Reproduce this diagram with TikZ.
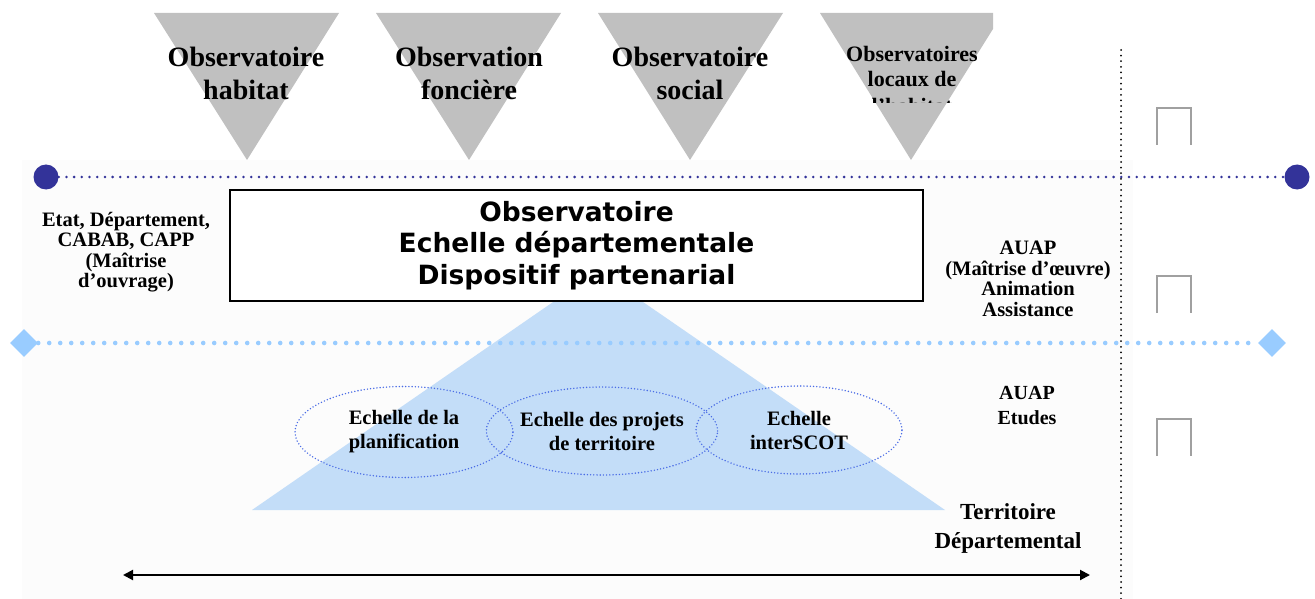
\documentclass[tikz,border=0pt]{standalone}
\usepackage{fontspec}
\setmainfont{Liberation Serif}
\newfontfamily\boxfont{DejaVu Sans}
\usetikzlibrary{shapes.geometric,arrows.meta}

\definecolor{trigray}{HTML}{C0C0C0}
\definecolor{navydot}{HTML}{333399}
\definecolor{skydot}{HTML}{99CCFF}
\definecolor{pyrblue}{HTML}{C3DDF8}
\definecolor{ellblue}{HTML}{4A6CE6}
\definecolor{boxgray}{HTML}{A0A0A0}
\definecolor{bgshade}{HTML}{FCFCFC}

\newcommand{\pw}{1315}
\newcommand{\ph}{599}

\begin{document}
\begin{tikzpicture}[x=1pt,y=-1pt,
    obs/.style={font=\bfseries\fontsize{28}{33}\selectfont, align=center, inner sep=0pt},
    obssmall/.style={font=\bfseries\fontsize{22}{25}\selectfont, align=center, inner sep=0pt},
    actor/.style={font=\bfseries\fontsize{20.5}{20.5}\selectfont, align=center, inner sep=0pt},
    scale3/.style={ellipse, draw=ellblue, line width=1.6pt, line cap=round, dash pattern=on 0pt off 3.2pt,
        font=\bfseries\fontsize{20.5}{24}\selectfont, align=center, inner sep=0pt},
    mainbox/.style={draw, line width=1.5pt, fill=white, minimum width=693pt, minimum height=111pt,
        font=\boxfont\bfseries\fontsize{26.5}{31.5}\selectfont, align=center, inner sep=0pt},
    navyball/.style={circle, fill=navydot, minimum size=25pt, inner sep=0pt},
    skygem/.style={diamond, fill=skydot, minimum width=28pt, minimum height=28pt, inner sep=0pt},
    navyline/.style={navydot, line width=2.8pt, line cap=round, dash pattern=on 0pt off 7.7pt},
    skyline/.style={skydot, line width=4.6pt, line cap=round, dash pattern=on 0pt off 11pt},
    blackdots/.style={line width=2pt, line cap=round, dash pattern=on 0pt off 5.6pt},
    openbox/.style={draw=boxgray, line width=1.5pt}]

    \useasboundingbox (0,0) rectangle (\pw,\ph);
    \fill[bgshade] (22,160) rectangle (1133,\ph);

    % observatoires (top)
    \fill[trigray] (154,13) -- (339,13) -- (247,160) -- cycle;
    \fill[trigray] (376,13) -- (561,13) -- (469,160) -- cycle;
    \fill[trigray] (598,13) -- (783,13) -- (690,160) -- cycle;
    \begin{scope}
        \clip (800,0) rectangle (993,170);
        \fill[trigray] (820,13) -- (1003,13) -- (911,160) -- cycle;
    \end{scope}
    \node[obs] (obsHab) at (246,73) {Observatoire\\habitat};
    \node[obs] (obsFon) at (469,73) {Observation\\foncière};
    \node[obs] (obsSoc) at (690,73) {Observatoire\\social};
    \node[obssmall] (obsLoc) at (912,67) {Observatoires\\locaux de};
    \begin{scope}
        \clip (800,0) rectangle (993,103);
        \node[obssmall] (obsLocCut) at (912,106) {l'habitat};
    \end{scope}

    % territoire departemental
    \fill[pyrblue] (598,271) -- (945,510) -- (252,510) -- cycle;
    \node[mainbox] (obsBox) at (576.5,245.5) {Observatoire\\Echelle départementale\\Dispositif partenarial};

    % niveaux
    \node[navyball] (circL) at (46,177) {};
    \node[navyball] (circR) at (1297,177) {};
    \draw[navyline] (circL) -- (circR);
    \node[skygem] (diaL) at (24,343) {};
    \node[skygem] (diaR) at (1272,343) {};
    \draw[skyline] (diaL) -- (diaR);

    \coordinate (vTop) at (1121,50);
    \coordinate (vBot) at (1121,\ph);
    \draw[blackdots] (vTop) -- (vBot);

    % echelles
    \node[scale3, minimum width=218pt, minimum height=91pt] (ellPlan) at (404,432) {Echelle de la\\planification};
    \node[scale3, minimum width=216pt, minimum height=88pt] (ellProj) at (602,431) {Echelle des projets\\de territoire};
    \node[scale3, minimum width=206pt, minimum height=88pt] (ellScot) at (799,430) {Echelle\\interSCOT};

    \node[actor] (maitreOuv) at (126,252) {Etat, Département,\\CABAB, CAPP\\(Maîtrise\\d’ouvrage)};
    \node[actor] (maitreOeu) at (1028,279) {AUAP\\(Maîtrise d’œuvre)\\Animation\\Assistance};
    \node[actor, font=\bfseries\fontsize{20}{25}\selectfont] (auapEtudes) at (1027,406) {AUAP\\Etudes};
    \node[actor, font=\bfseries\fontsize{23}{29}\selectfont] (terrDep) at (1008,528) {Territoire\\Départemental};

    \foreach \yb in {145,313,456}
        \draw[openbox] (1157,\yb) -- ++(0,-37) -- ++(34,0) -- ++(0,37);

    \coordinate (arrL) at (123,575);
    \coordinate (arrR) at (1090,575);
    \draw[line width=2pt, {Triangle[length=10pt,width=10pt]}-{Triangle[length=10pt,width=10pt]}] (arrL) -- (arrR);

\end{tikzpicture}
\end{document}
